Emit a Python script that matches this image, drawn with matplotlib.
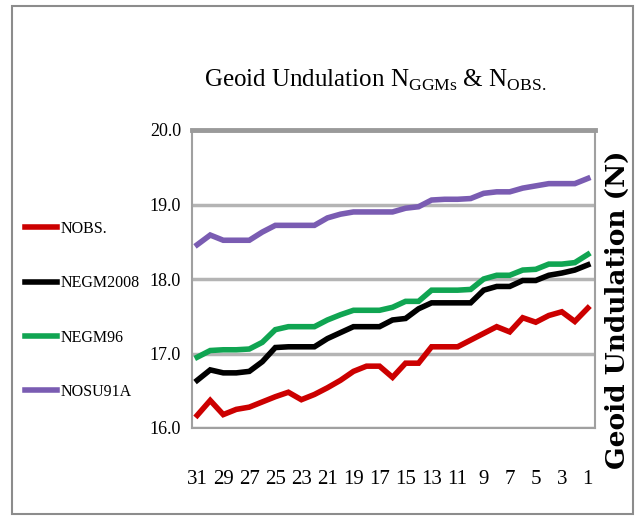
import matplotlib
matplotlib.use("Agg")
import matplotlib.pyplot as plt
from matplotlib.patches import Rectangle

plt.rcParams['font.family'] = ['Liberation Serif', 'DejaVu Serif']
plt.rcParams['mathtext.fontset'] = 'custom'
plt.rcParams['mathtext.rm'] = 'Liberation Serif'

# station numbers, plotted from 31 down to 1
stations = list(range(31, 0, -1))

n_obs = [16.17, 16.37, 16.18, 16.25, 16.28, 16.35, 16.42, 16.48, 16.38, 16.45,
         16.54, 16.64, 16.76, 16.83, 16.83, 16.68, 16.87, 16.87, 17.09, 17.09,
         17.09, 17.18, 17.27, 17.36, 17.29, 17.48, 17.42, 17.51, 17.56, 17.43,
         17.61]
n_egm2008 = [16.64, 16.78, 16.74, 16.74, 16.76, 16.89, 17.08, 17.09, 17.09, 17.09,
             17.2, 17.28, 17.36, 17.36, 17.36, 17.45, 17.47, 17.6, 17.68, 17.68,
             17.68, 17.68, 17.85, 17.9, 17.9, 17.98, 17.98, 18.05, 18.08, 18.12,
             18.19]
n_egm96 = [16.95, 17.04, 17.05, 17.05, 17.06, 17.15, 17.32, 17.36, 17.36, 17.36,
           17.45, 17.52, 17.58, 17.58, 17.58, 17.62, 17.7, 17.7, 17.85, 17.85,
           17.85, 17.86, 18.0, 18.05, 18.05, 18.12, 18.13, 18.2, 18.2, 18.22,
           18.33]
n_osu91a = [18.46, 18.59, 18.52, 18.52, 18.52, 18.63, 18.72, 18.72, 18.72, 18.72,
            18.82, 18.87, 18.9, 18.9, 18.9, 18.9, 18.95, 18.97, 19.06, 19.07,
            19.07, 19.08, 19.15, 19.17, 19.17, 19.22, 19.25, 19.28, 19.28, 19.28,
            19.35]

labels = ['NOBS.', 'NEGM2008', 'NEGM96', 'NOSU91A']
colors = ['#cc0000', '#000000', '#10a552', '#7a5cb2']
xticks = list(range(31, 0, -2))
yticks = [16.0, 17.0, 18.0, 19.0, 20.0]

fig = plt.figure(figsize=(6.35, 5.16), dpi=100)
ax = fig.add_axes([192/635, 1-428/516, (595-192)/635, (428-130)/516])

for vals, lab, c in zip([n_obs, n_egm2008, n_egm96, n_osu91a], labels, colors):
    ax.plot(stations, vals, color=c, lw=4.0, label=lab, solid_joinstyle='miter')

ax.set_xlim(31.4, 0.45)
ax.set_ylim(16.0, 20.0)
ax.set_xticks(xticks)
ax.set_yticks(yticks)
ax.set_yticklabels(['%.1f' % v for v in yticks])
ax.tick_params(axis='x', length=0, pad=30, labelsize=15)
ax.tick_params(axis='y', length=0, pad=8, labelsize=13)
ax.yaxis.grid(True, color='#b4b4b4', lw=2.5)
ax.set_axisbelow(True)
for s in ax.spines.values():
    s.set_color('#a0a0a0')
    s.set_linewidth(1.5)
ax.spines['top'].set_linewidth(3.5)
ax.spines['top'].set_color('#9a9a9a')

fig.text(375/635, 1-80/516, r'Geoid Undulation N$_{\mathrm{GGMs}}$ & N$_{\mathrm{OBS.}}$',
         ha='center', va='center', fontsize=18)

fig.text(617/635, 1-310/516, 'Geoid Undulation (N)', rotation=90, ha='center', va='center',
         fontsize=19, fontweight='bold', family=['DejaVu Serif'])

fig.legend(loc='upper left', bbox_to_anchor=(25/635, 1-221/516), frameon=False,
           fontsize=11.5, labelspacing=2.4, handlelength=2.0, handletextpad=0.2,
           borderpad=0, borderaxespad=0)

fig.add_artist(Rectangle((12/635, 1-514/516), (633-12)/635, (514-6)/516,
                         transform=fig.transFigure, fill=False, ec='#8c8c8c', lw=1.5))

fig.savefig('out.png', dpi=100)
